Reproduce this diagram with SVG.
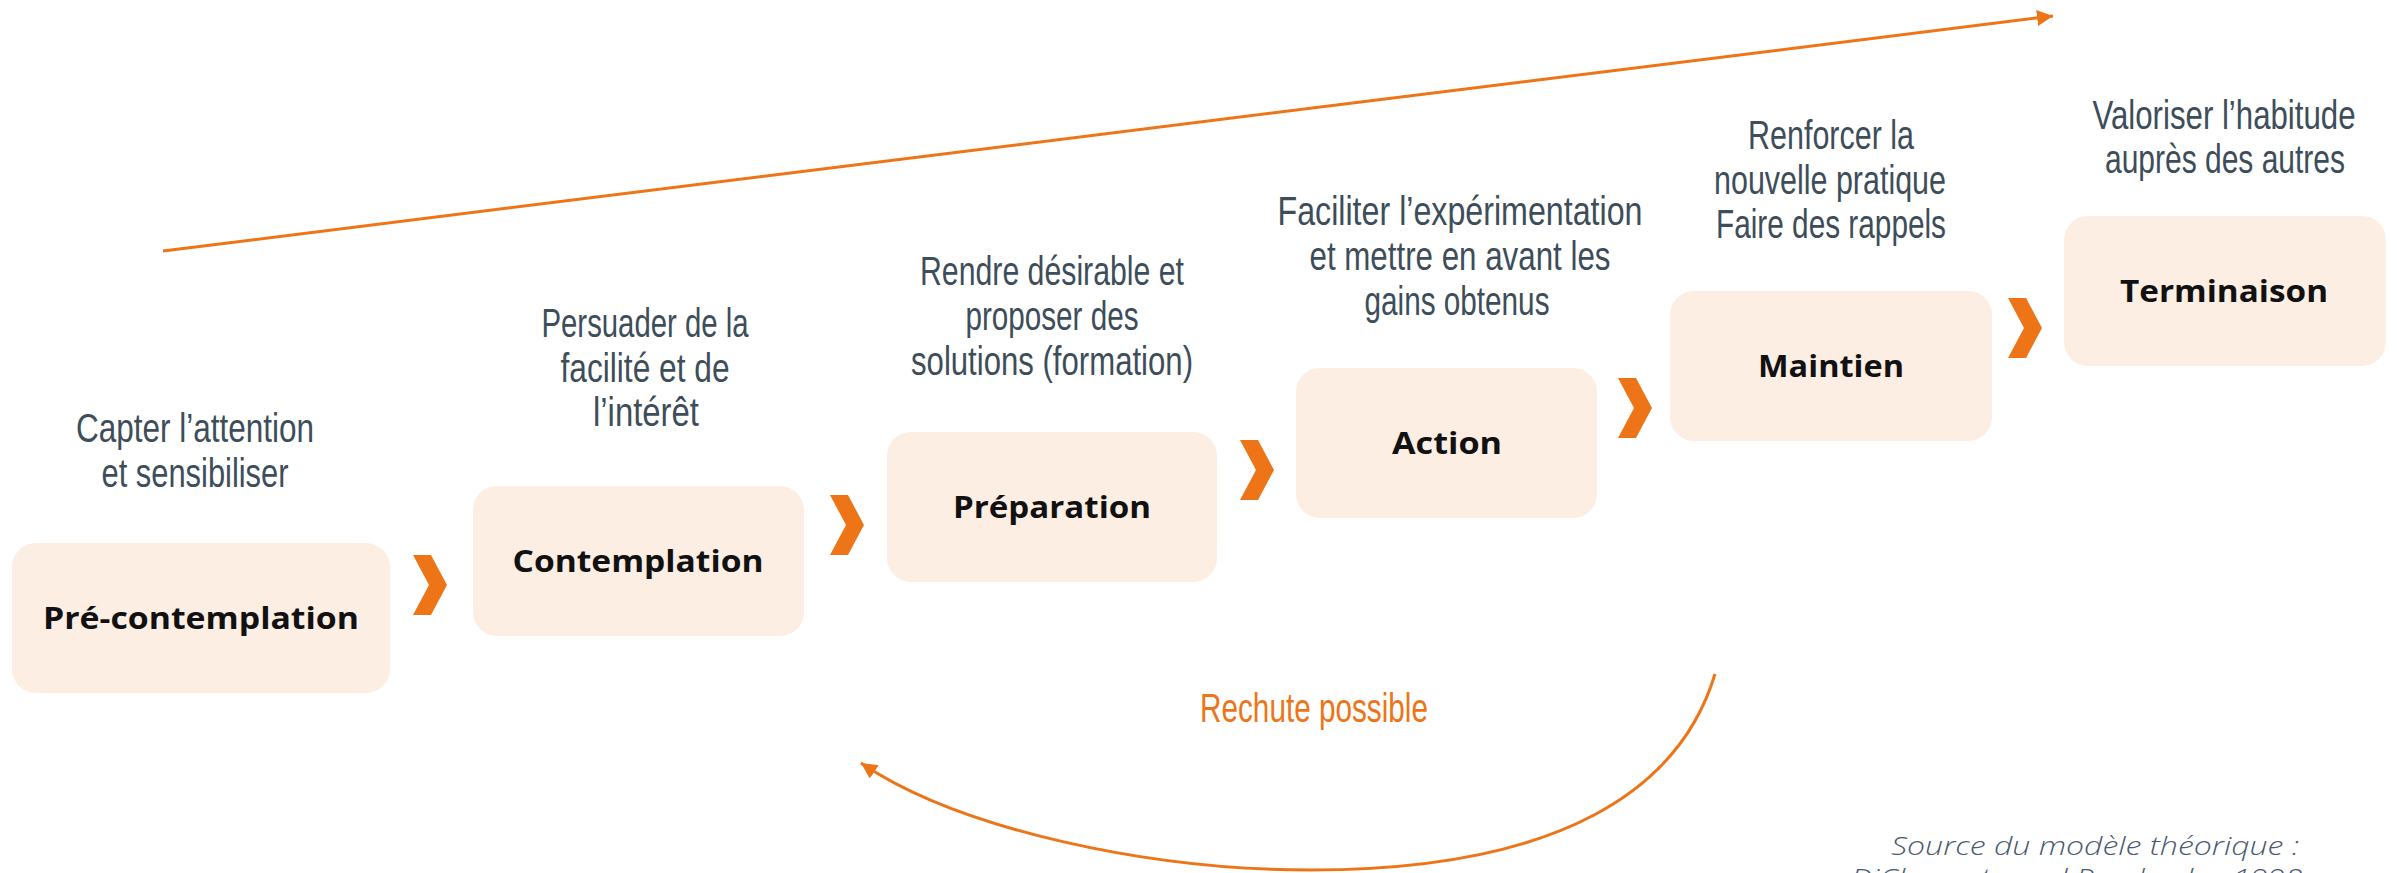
<svg xmlns="http://www.w3.org/2000/svg" width="2397" height="873" viewBox="0 0 2397 873">
<style>
.box{fill:#fdeee4;}
.lbl{font-family:"Open Sans","Liberation Sans",sans-serif;font-weight:700;font-size:31px;fill:#111111;text-anchor:middle;}
.note{font-family:"Liberation Sans","DejaVu Sans",sans-serif;font-size:40px;fill:#3d4d5a;text-anchor:middle;}
.chev{fill:#ee7418;}
.conn{fill:none;stroke:#ee7418;stroke-width:3;}
.relapse{font-family:"Liberation Sans","DejaVu Sans",sans-serif;font-size:41px;fill:#ee7418;text-anchor:middle;}
.src{font-family:"Open Sans","Liberation Sans",sans-serif;font-style:italic;font-weight:300;font-size:26px;fill:#4a5a70;text-anchor:end;}
</style>
<defs>
<marker id="ah" markerUnits="userSpaceOnUse" markerWidth="18" markerHeight="18" refX="16" refY="8" orient="auto">
<path d="M0,0 L16,8 L0,16 z" fill="#ee7418"/>
</marker>
<path id="chevron" d="M0,0 L18,0 L34,30 L18,60 L0,60 L16,30 z"/>
</defs>

<g id="connectors">
<line class="conn" x1="163" y1="251" x2="2053" y2="16" marker-end="url(#ah)"/>
<path class="conn" d="M1715,674 C1680,790 1560,870 1310,870 C1150,870 960,830 861,763" marker-end="url(#ah)"/>
<use href="#chevron" class="chev" x="413" y="555"/>
<use href="#chevron" class="chev" x="830" y="495"/>
<use href="#chevron" class="chev" x="1240" y="440"/>
<use href="#chevron" class="chev" x="1618" y="378"/>
<use href="#chevron" class="chev" x="2008" y="298"/>
</g>

<g id="node-precontemplation">
<rect class="box" x="12" y="543" width="378" height="150" rx="24"/>
<text class="lbl" x="201" y="629" textLength="316" lengthAdjust="spacingAndGlyphs">Pré-contemplation</text>
<text class="note" x="195" y="442" textLength="238" lengthAdjust="spacingAndGlyphs">Capter l’attention</text>
<text class="note" x="195" y="487" textLength="187" lengthAdjust="spacingAndGlyphs">et sensibiliser</text>
</g>

<g id="node-contemplation">
<rect class="box" x="473" y="486" width="331" height="150" rx="24"/>
<text class="lbl" x="638" y="572" textLength="251" lengthAdjust="spacingAndGlyphs">Contemplation</text>
<text class="note" x="645" y="337" textLength="207" lengthAdjust="spacingAndGlyphs">Persuader de la</text>
<text class="note" x="645" y="382" textLength="169" lengthAdjust="spacingAndGlyphs">facilité et de</text>
<text class="note" x="646" y="426" textLength="106" lengthAdjust="spacingAndGlyphs">l’intérêt</text>
</g>

<g id="node-preparation">
<rect class="box" x="887" y="432" width="330" height="150" rx="24"/>
<text class="lbl" x="1052" y="518" textLength="198" lengthAdjust="spacingAndGlyphs">Préparation</text>
<text class="note" x="1052" y="285" textLength="264" lengthAdjust="spacingAndGlyphs">Rendre désirable et</text>
<text class="note" x="1052" y="330" textLength="173" lengthAdjust="spacingAndGlyphs">proposer des</text>
<text class="note" x="1052" y="375" textLength="282" lengthAdjust="spacingAndGlyphs">solutions (formation)</text>
</g>

<g id="node-action">
<rect class="box" x="1296" y="368" width="301" height="150" rx="24"/>
<text class="lbl" x="1447" y="454" textLength="110" lengthAdjust="spacingAndGlyphs">Action</text>
<text class="note" x="1460" y="225" textLength="365" lengthAdjust="spacingAndGlyphs">Faciliter l’expérimentation</text>
<text class="note" x="1460" y="270" textLength="301" lengthAdjust="spacingAndGlyphs">et mettre en avant les</text>
<text class="note" x="1457" y="315" textLength="185" lengthAdjust="spacingAndGlyphs">gains obtenus</text>
</g>

<g id="node-maintien">
<rect class="box" x="1670" y="291" width="322" height="150" rx="24"/>
<text class="lbl" x="1831" y="377" textLength="146" lengthAdjust="spacingAndGlyphs">Maintien</text>
<text class="note" x="1831" y="149" textLength="166" lengthAdjust="spacingAndGlyphs">Renforcer la</text>
<text class="note" x="1830" y="194" textLength="232" lengthAdjust="spacingAndGlyphs">nouvelle pratique</text>
<text class="note" x="1831" y="238" textLength="230" lengthAdjust="spacingAndGlyphs">Faire des rappels</text>
</g>

<g id="node-terminaison">
<rect class="box" x="2064" y="216" width="322" height="150" rx="24"/>
<text class="lbl" x="2224" y="302" textLength="208" lengthAdjust="spacingAndGlyphs">Terminaison</text>
<text class="note" x="2224" y="129" textLength="263" lengthAdjust="spacingAndGlyphs">Valoriser l’habitude</text>
<text class="note" x="2225" y="173" textLength="240" lengthAdjust="spacingAndGlyphs">auprès des autres</text>
</g>

<g id="label-rechute">
<text class="relapse" x="1314" y="722" textLength="228" lengthAdjust="spacingAndGlyphs">Rechute possible</text>
</g>

<g id="source">
<text class="src" x="2299" y="855" textLength="408" lengthAdjust="spacingAndGlyphs">Source du modèle théorique :</text>
<text class="src" x="2302" y="887" textLength="451" lengthAdjust="spacingAndGlyphs">DiClemente and Prochaska, 1998</text>
</g>
</svg>
